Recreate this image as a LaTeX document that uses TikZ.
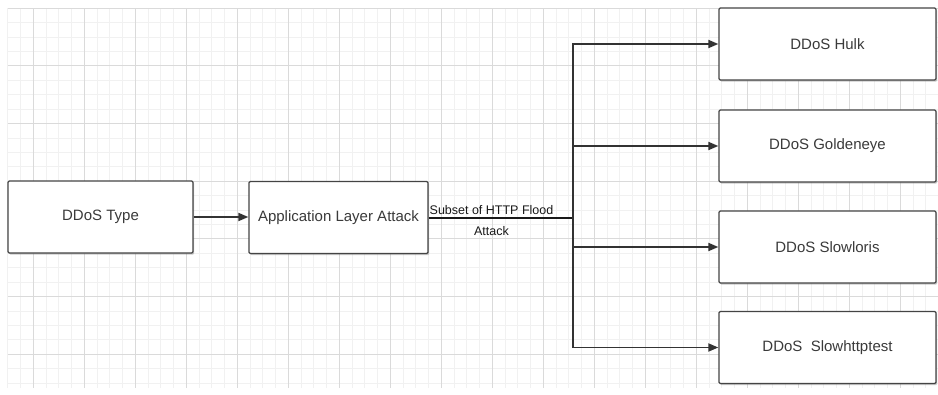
\documentclass[tikz,border=0pt]{standalone}
\usepackage{fontspec}
\setmainfont{Liberation Sans}
\usetikzlibrary{arrows.meta,shadows}
\definecolor{boxline}{HTML}{444444}
\definecolor{txt}{HTML}{3A3A3A}
\definecolor{gminor}{HTML}{F1F1F1}
\definecolor{gmajor}{HTML}{DADADA}
\tikzset{
  box/.style={draw=boxline, line width=1.3pt, fill=white, rounded corners=1.2pt,
    minimum height=72pt, inner sep=0pt, text=txt,
    font=\fontsize{15}{18}\selectfont,
    drop shadow={shadow xshift=1.2pt, shadow yshift=-1.6pt, opacity=0.35, fill=black!60}},
  trunk/.style={draw=black!80, line width=1.8pt},
  conn/.style={trunk, -{Triangle[length=10pt,width=8pt]}},
  lab/.style={inner sep=0pt, text=black!90, font=\fontsize{12.5}{14}\selectfont}
}
\begin{document}
\begin{tikzpicture}[x=1pt,y=-1pt]
\useasboundingbox (0,0) rectangle (938,394);
\fill[white] (0,0) rectangle (938,394);
% grid
\foreach \k in {0,...,73}{\draw[gminor, line width=0.5pt] (7.5+12.75*\k,8) -- (7.5+12.75*\k,388);}
\foreach \k in {0,...,26}{\draw[gminor, line width=0.5pt] (7.5,8+14.42*\k) -- (938,8+14.42*\k);}
\foreach \k in {0,...,18}{\draw[gmajor, line width=0.7pt] (33+51*\k,8) -- (33+51*\k,388);}
\foreach \k in {0,...,6}{\draw[gmajor, line width=0.7pt] (7.5,8+57.7*\k) -- (938,8+57.7*\k);}
% nodes
\node[box, minimum width=185pt] (type) at (100.5,217) {DDoS Type};
\node[box, minimum width=179pt] (app) at (338.5,217.5) {Application Layer Attack};
\node[box, minimum width=217pt] (hulk) at (827.5,44) {DDoS Hulk};
\node[box, minimum width=217pt] (gold) at (827.5,146) {DDoS Goldeneye};
\node[box, minimum width=217pt] (slowl) at (827.5,247) {DDoS Slowloris};
\node[box, minimum width=217pt] (slowh) at (827.5,347.5) {DDoS\ \ Slowhttptest};
\coordinate (j) at (573,218);
% connectors
\draw[conn] (type.east) -- (type.east -| app.west);
\draw[draw=black!90, line width=2.4pt] (app.east |- j) -- (j);
\draw[trunk, line cap=rect] (j |- hulk.west) -- (j |- slowh.west);
\draw[conn] (j |- hulk.west) -- (hulk.west);
\draw[conn] (j |- gold.west) -- (gold.west);
\draw[conn] (j |- slowl.west) -- (slowl.west);
\draw[conn] (j |- slowh.west) -- (slowh.west);
\node[lab, anchor=base] (lab1) at (491.5,214) {Subset of HTTP Flood};
\node[lab, anchor=base] (lab2) at (491.5,235) {Attack};
\end{tikzpicture}
\end{document}
